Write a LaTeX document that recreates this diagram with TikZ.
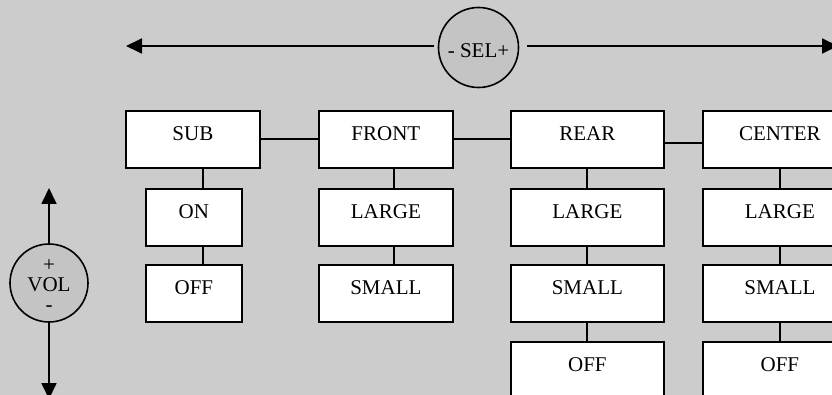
\documentclass[tikz,border=0pt]{standalone}
\usepackage{fontspec}
\setmainfont{Liberation Serif}
\usetikzlibrary{arrows.meta,calc}
\definecolor{bg}{HTML}{CCCCCC}
\definecolor{knob}{HTML}{C4C4C4}
\begin{document}
\begin{tikzpicture}[x=1pt,y=-1pt,
  font=\fontsize{21}{21}\selectfont,
  box/.style={draw, fill=white, line width=1.8pt, anchor=north west, inner sep=0pt,
              text height=14pt, text depth=11pt, minimum height=57pt},
  conn/.style={line width=1.8pt},
  knobst/.style={circle, draw, fill=knob, line width=1.6pt, inner sep=0pt, minimum size=80pt},
  knobtxt/.style={inner sep=0pt, align=center},
  arr/.style={line width=1.8pt, -{Triangle[length=16pt,width=15pt]}}]
\fill[bg] (0,0) rectangle (832,395);
\useasboundingbox (0,0) rectangle (832,395);

% SEL knob and arrows
\node[knobst] (sel) at (478.5,47.5) {};
\node[knobtxt, anchor=base] (seltxt) at (478.5,58) {- SEL+};
\coordinate (selL) at (126,46);
\coordinate (selR) at (838,46);
\draw[arr, shorten <=4pt] (sel.west |- selL) -- (selL);
\draw[arr, shorten <=8pt] (sel.east |- selR) -- (selR);

% VOL knob and arrows
\node[knobst, minimum size=78pt] (vol) at (49,283) {};
\node[knobtxt, font=\fontsize{21}{20}\selectfont, anchor=center] (voltxt) at (49,286) {+\\VOL\\-};
\coordinate (volU) at (49,188);
\coordinate (volD) at (49,399);
\draw[arr] (vol.north) -- (volU);
\draw[arr] (vol.south) -- (volD);

% columns
\node[box, minimum width=134pt] (sub)    at (125,110) {SUB};
\node[box, minimum width=96pt]  (subon)  at (145,188) {ON};
\node[box, minimum width=96pt]  (suboff) at (145,264) {OFF};

\node[box, minimum width=134pt] (front)  at (318,110) {FRONT};
\node[box, minimum width=134pt] (frl)    at (318,188) {LARGE};
\node[box, minimum width=134pt] (frs)    at (318,264) {SMALL};

\node[box, minimum width=153pt] (rear)   at (510,110) {REAR};
\node[box, minimum width=153pt] (rel)    at (510,188) {LARGE};
\node[box, minimum width=153pt] (res)    at (510,264) {SMALL};
\node[box, minimum width=153pt] (reo)    at (510,341) {OFF};

\node[box, minimum width=154pt] (center) at (702,110) {CENTER};
\node[box, minimum width=154pt] (cel)    at (702,188) {LARGE};
\node[box, minimum width=154pt] (ces)    at (702,264) {SMALL};
\node[box, minimum width=154pt] (ceo)    at (702,341) {OFF};

% horizontal connectors
\draw[conn] (sub.east) -- (front.west);
\draw[conn] (front.east) -- (rear.west);
\draw[conn] ([yshift=-4pt]rear.east) -- ([yshift=-4pt]center.west);

% vertical connectors
\coordinate (xs) at (203,0);
\coordinate (xf) at (394,0);
\coordinate (xr) at (587,0);
\draw[conn] (sub.south -| xs) -- (subon.north -| xs);
\draw[conn] (subon.south -| xs) -- (suboff.north -| xs);
\draw[conn] (front.south -| xf) -- (frl.north -| xf);
\draw[conn] (frl.south -| xf) -- (frs.north -| xf);
\draw[conn] (rear.south -| xr) -- (rel.north -| xr);
\draw[conn] (rel.south -| xr) -- (res.north -| xr);
\draw[conn] (res.south -| xr) -- (reo.north -| xr);
\draw[conn] (center.south) -- (cel.north);
\draw[conn] (cel.south) -- (ces.north);
\draw[conn] (ces.south) -- (ceo.north);
\end{tikzpicture}
\end{document}
